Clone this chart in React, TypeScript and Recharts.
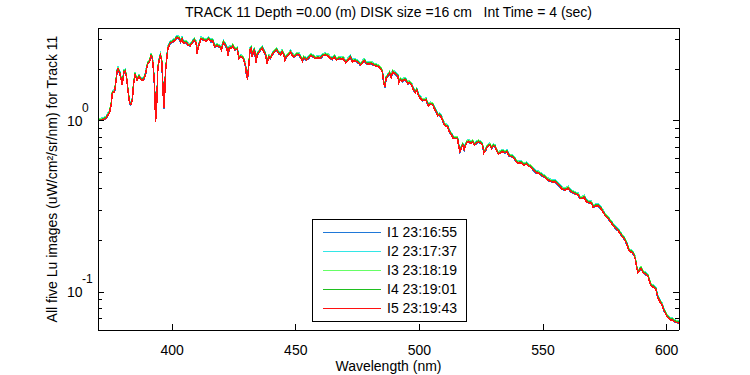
import React from 'react';
import { LineChart, Line, XAxis, YAxis, Legend } from 'recharts';

// wavelength (nm) of each sample
const wavelength = [
  370.0, 371.8, 372.5, 373.4, 374.7, 375.4, 375.8, 376.7, 377.1, 377.7, 378.1, 378.8, 379.4, 379.8, 380.5, 381.0, 381.5, 382.1, 382.8, 383.3,
  383.9, 384.4, 385.0, 385.8, 386.6, 387.5, 388.4, 389.2, 389.8, 390.2, 390.8, 391.5, 392.0, 392.5, 392.9, 393.3, 393.8, 394.2, 394.9, 395.3,
  395.8, 396.2, 396.6, 397.0, 397.3, 397.9, 398.3, 399.2, 400.3, 401.2, 401.9, 402.7, 403.4, 404.0, 404.6, 405.6, 406.3, 407.3, 408.3, 409.0,
  409.7, 410.1, 410.6, 411.7, 412.6, 413.7, 414.8, 415.7, 416.3, 417.2,
  418.3, 419.4, 419.9, 420.7, 421.3, 422.1, 422.6, 423.1, 424.1, 424.5, 425.3, 426.3, 427.0, 427.7, 428.5, 429.0, 429.7, 430.1, 430.5, 430.9,
  431.5, 432.0, 432.4, 432.8, 433.3, 433.9, 434.4, 435.1, 435.8, 436.4, 437.1, 437.8, 438.4, 439.1, 439.8, 440.4, 441.4, 442.2, 443.1, 443.8,
  444.5, 445.2, 445.6, 446.2, 447.2, 447.9, 448.5, 449.2, 450.0, 450.5, 451.3, 452.1, 452.7, 453.2, 454.3, 455.2, 455.9, 457.0, 457.9, 458.9,
  460.0, 461.0, 462.0, 462.9, 464.0,
  464.8, 465.6, 466.4, 467.5, 468.4, 469.1, 470.2, 471.1, 472.1, 472.9, 473.8, 474.7, 475.5, 476.1, 476.9, 477.7, 478.5, 479.6, 480.5, 481.5,
  482.5, 483.5, 484.2, 485.0, 485.5, 486.0, 486.6, 487.2, 487.9, 488.6, 489.2, 489.9, 490.6, 491.3, 491.7, 492.3, 493.0, 494.0, 494.6, 495.3,
  496.0, 496.8, 497.6, 498.3, 498.9, 499.7, 500.4, 501.3, 502.7, 503.6, 504.4, 505.4, 506.0, 506.7, 507.4, 508.1, 508.8, 509.4,
  510.1, 510.8, 511.4, 512.1, 513.2, 513.7, 515.4, 515.8, 516.4, 516.9, 517.5, 518.1, 518.5, 519.1, 519.9, 520.8, 521.5, 522.3, 523.1, 523.9,
  524.9, 525.5, 526.1, 526.9, 527.5, 528.5, 529.2, 529.8, 530.6, 531.2, 532.0, 532.7, 533.6, 534.7, 535.4, 536.3, 537.4, 538.3, 539.2, 540.0,
  540.6, 541.4, 542.3, 543.3, 544.1, 545.0, 546.0, 547.1, 548.4, 549.7, 550.8, 552.4, 553.8, 554.8, 555.8, 556.5,
  557.8, 558.9, 560.2, 561.2, 562.1, 563.2, 564.2, 564.9, 565.9, 566.7, 567.5, 568.5, 569.6, 570.3, 571.2, 572.3, 573.3, 574.2, 575.3, 576.3,
  577.3, 578.2, 579.3, 580.4, 581.3, 582.3, 583.1, 584.0, 584.7, 585.4, 586.0, 586.8, 587.4, 587.9, 588.4, 589.1, 589.6, 590.3, 591.4, 592.5,
  593.1, 593.8, 594.8, 595.7, 596.4, 597.2, 598.1, 598.8, 599.5, 600.1, 600.8, 601.6, 602.4, 603.2, 604.3, 605.0,
];

// Lu of image I5 (uW/cm^2/sr/nm), same samples
const luI5 = [
  1.00, 1.01, 1.02, 1.04, 1.12, 1.26, 1.45, 1.48, 1.62, 1.93, 2.00, 1.89, 1.73, 1.62, 1.93, 1.95, 1.81, 1.51, 1.26, 1.24,
  1.32, 1.65, 1.85, 1.73, 1.81, 1.73, 1.73, 1.85, 2.07, 2.16, 2.21, 2.40, 2.31, 1.93, 1.55, 0.99, 1.29, 2.02, 2.31, 2.40,
  2.21, 1.65, 1.18, 1.45, 1.93, 2.36, 2.65, 2.83, 2.89, 2.96, 3.05, 3.03, 2.89, 3.00, 2.83, 2.87, 2.77, 2.74, 2.87, 2.96,
  2.83, 2.47, 2.70, 3.00, 2.96, 2.92, 3.00, 2.89, 2.94, 2.70,
  2.74, 2.67, 2.59, 2.87, 2.79, 2.65, 2.40, 2.65, 2.67, 2.74, 2.59, 2.62, 2.31, 2.36, 2.33, 2.26, 2.07, 1.81, 1.77, 2.02,
  2.59, 2.65, 2.36, 2.53, 2.59, 2.19, 2.42, 2.51, 2.59, 2.65, 2.53, 2.42, 2.16, 2.36, 2.31, 2.42, 2.53, 2.59, 2.47, 2.42,
  2.53, 2.42, 2.26, 2.36, 2.44, 2.51, 2.42, 2.36, 2.40, 2.44, 2.42, 2.31, 2.23, 2.33, 2.26, 2.31, 2.40, 2.36, 2.31, 2.33,
  2.31, 2.40, 2.42, 2.40, 2.31,
  2.28, 2.36, 2.26, 2.31, 2.28, 2.31, 2.18, 2.26, 2.34, 2.21, 2.24, 2.21, 2.16, 2.11, 2.18, 2.24, 2.16, 2.14, 2.16, 2.11,
  2.09, 2.07, 2.02, 1.93, 1.69, 1.57, 1.77, 1.82, 1.89, 1.79, 1.93, 1.89, 1.85, 1.81, 1.67, 1.74, 1.69, 1.74, 1.71, 1.64,
  1.67, 1.62, 1.51, 1.46, 1.51, 1.39, 1.35, 1.31, 1.32, 1.22, 1.25, 1.24, 1.18, 1.13, 1.07, 1.08, 1.05, 1.00,
  0.944, 0.931, 0.92, 0.863, 0.814, 0.789, 0.789, 0.721, 0.659, 0.690, 0.721, 0.675, 0.705, 0.744, 0.754, 0.738, 0.754, 0.721, 0.738, 0.754,
  0.738, 0.721, 0.650, 0.675, 0.705, 0.721, 0.690, 0.712, 0.705, 0.668, 0.639, 0.650, 0.659, 0.650, 0.659, 0.622, 0.616, 0.603, 0.576, 0.564,
  0.568, 0.568, 0.551, 0.559, 0.544, 0.539, 0.516, 0.497, 0.493, 0.476, 0.467, 0.446, 0.440, 0.440, 0.427, 0.416,
  0.398, 0.394, 0.403, 0.385, 0.380, 0.373, 0.368, 0.352, 0.352, 0.357, 0.337, 0.332, 0.330, 0.312, 0.318, 0.318, 0.308, 0.294, 0.278, 0.269,
  0.257, 0.246, 0.235, 0.228, 0.218, 0.209, 0.201, 0.188, 0.176, 0.172, 0.170, 0.164, 0.154, 0.139, 0.130, 0.134, 0.1375, 0.131, 0.127, 0.123,
  0.115, 0.108, 0.1065, 0.103, 0.093, 0.088, 0.084, 0.0785, 0.0751, 0.0724, 0.0702, 0.0686, 0.0686, 0.0671, 0.0662, 0.066,
];

const seriesKeys = ['I1', 'I2', 'I3', 'I4', 'I5'];
const seriesTimes = ['23:16:55', '23:17:37', '23:18:19', '23:19:01', '23:19:43'];
const seriesColors = ['#1f78d8', '#33e6e6', '#66ff66', '#1fbf1f', '#ff1010'];
// level of each image relative to I5 (read where the traces part near the peak)
const seriesRatio = [0.997, 1.027, 1.02, 1.012, 1];

const xTicks = [400, 450, 500, 550, 600];
const yMajorTicks = [0.1, 1];
const yMinorTicks = [0.07, 0.08, 0.09, 0.2, 0.3, 0.4, 0.5, 0.6, 0.7, 0.8, 0.9, 2, 3];
const yAllTicks = [...yMajorTicks, ...yMinorTicks].sort((a, b) => a - b);

const titleText = 'TRACK 11 Depth =0.00 (m) DISK size =16 cm   Int Time = 4 (sec)';
const xLabel = 'Wavelength (nm)';
const yLabel = 'All five Lu images (uW/cm\u00b2/sr/nm) for Track 11';

const data = wavelength.map((w, i) => {
  const row: Record<string, number> = { w };
  seriesKeys.forEach((k, j) => {
    row[k] = luI5[i] * seriesRatio[j];
  });
  return row;
});

const font = 'Arial, "Liberation Sans", Helvetica, sans-serif';
const tickFont = '"Liberation Sans Narrow", "Arial Narrow", Arial, sans-serif';
const xDomain = [370, 605];
const yDomain = [0.06, 3.48];
const majorLen = 6;
const minorLen = 4;

// tick marks point inward, MATLAB style
const BottomTick = (props: any) => (
  <g>
    <line x1={props.x} x2={props.x} y1={props.y - majorLen} y2={props.y} stroke="#000" />
    <text x={props.x} y={props.y + 25} textAnchor="middle" fontSize={14} fontFamily={tickFont} fill="#000">
      {props.payload.value}
    </text>
  </g>
);

const TopTick = (props: any) => (
  <line x1={props.x} x2={props.x} y1={props.y} y2={props.y + majorLen} stroke="#000" />
);

const LeftTick = (props: any) => {
  const v = props.payload.value;
  const major = yMajorTicks.includes(v);
  const x0 = props.x - 31;
  return (
    <g>
      <line x1={props.x} x2={props.x + (major ? majorLen : minorLen)} y1={props.y} y2={props.y} stroke="#000" />
      {major && (
        <text x={x0} y={props.y + 5} textAnchor="start" fontSize={14} fontFamily={tickFont} fill="#000">10</text>
      )}
      {major && (
        <text x={x0 + 15} y={props.y - 9} textAnchor="start" fontSize={12} fontFamily={tickFont} fill="#000">
          {String(Math.round(Math.log10(v)))}
        </text>
      )}
    </g>
  );
};

const RightTick = (props: any) => {
  const major = yMajorTicks.includes(props.payload.value);
  return <line x1={props.x - (major ? majorLen : minorLen)} x2={props.x} y1={props.y} y2={props.y} stroke="#000" />;
};

const TitleLabel = (props: any) => {
  const vb = props.viewBox;
  return (
    <text x={vb.x + vb.width / 2} y={vb.y + vb.height - 11} textAnchor="middle" fontSize={14} fontFamily={font} fill="#000" style={{ whiteSpace: 'pre' }}>
      {titleText}
    </text>
  );
};

const XLabel = (props: any) => {
  const vb = props.viewBox;
  return (
    <text x={vb.x + vb.width / 2} y={vb.y + 41} textAnchor="middle" fontSize={14} fontFamily={font} fill="#000">
      {xLabel}
    </text>
  );
};

const YLabel = (props: any) => {
  const vb = props.viewBox;
  const cx = vb.x + vb.width - 41;
  const cy = vb.y + vb.height / 2;
  return (
    <text x={cx} y={cy} textAnchor="middle" fontSize={14} fontFamily={font} fill="#000" transform={`rotate(-90, ${cx}, ${cy})`}>
      {yLabel}
    </text>
  );
};

const LegendBox = ({ payload }: any) => (
  <div style={{ width: 153, height: 101, border: '1px solid #000', background: '#fff', position: 'relative', fontFamily: font, fontSize: 14, color: '#000' }}>
    {(payload || []).map((entry: any, i: number) => (
      <div key={entry.value} style={{ position: 'absolute', left: 0, top: 3 + i * 19, height: 18, display: 'flex', alignItems: 'center' }}>
        <span style={{ display: 'inline-block', marginLeft: 10, width: 58, height: 1, background: entry.color }} />
        <span style={{ marginLeft: 6, lineHeight: '18px', whiteSpace: 'nowrap' }}>{entry.value}</span>
      </div>
    ))}
  </div>
);

export default function App() {
  return (
    <div style={{ position: 'absolute', left: 0, top: 0, width: 750, height: 375, background: '#fff', shapeRendering: 'crispEdges' } as any}>
      <LineChart width={750} height={375} data={data} margin={{ top: 27, right: 70, bottom: 44, left: 97 }}>
        <XAxis
          xAxisId="x"
          dataKey="w"
          type="number"
          domain={xDomain}
          allowDataOverflow
          ticks={xTicks}
          interval={0}
          height={1}
          tickSize={0}
          tickMargin={0}
          tickLine={false}
          stroke="#000"
          tick={BottomTick}
          label={{ content: XLabel }}
        />
        <XAxis
          xAxisId="xTop"
          orientation="top"
          type="number"
          domain={xDomain}
          allowDataOverflow
          ticks={xTicks}
          interval={0}
          height={1}
          tickSize={0}
          tickMargin={0}
          tickLine={false}
          stroke="#000"
          tick={TopTick}
          label={{ content: TitleLabel }}
        />
        <YAxis
          yAxisId="y"
          scale="log"
          type="number"
          domain={yDomain}
          allowDataOverflow
          ticks={yAllTicks}
          interval={0}
          width={1}
          tickSize={0}
          tickMargin={0}
          tickLine={false}
          stroke="#000"
          tick={LeftTick}
          label={{ content: YLabel }}
        />
        <YAxis
          yAxisId="yRight"
          orientation="right"
          scale="log"
          type="number"
          domain={yDomain}
          allowDataOverflow
          ticks={yAllTicks}
          interval={0}
          width={1}
          tickSize={0}
          tickMargin={0}
          tickLine={false}
          stroke="#000"
          tick={RightTick}
        />
        <Legend
          layout="vertical"
          align="center"
          verticalAlign="middle"
          content={LegendBox}
          wrapperStyle={{ left: 312, top: 219, width: 155, height: 103 }}
        />
        {seriesKeys.map((k, j) => (
          <Line
            key={k}
            xAxisId="x"
            yAxisId="y"
            type="linear"
            dataKey={k}
            name={`${k} ${seriesTimes[j]}`}
            stroke={seriesColors[j]}
            strokeWidth={1.5}
            dot={false}
            activeDot={false}
            isAnimationActive={false}
          />
        ))}
      </LineChart>
    </div>
  );
}
